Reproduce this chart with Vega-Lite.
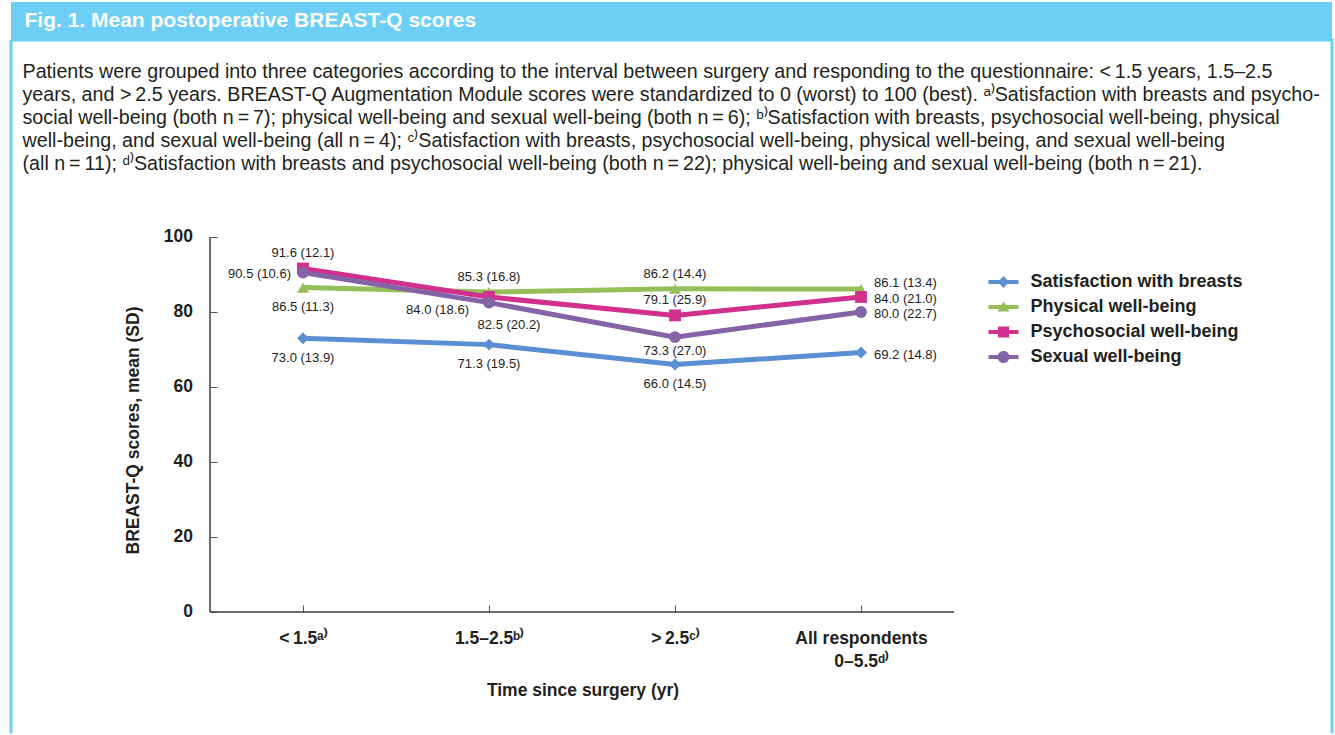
{
  "$schema": "https://vega.github.io/schema/vega-lite/v6.json",
  "background": "white",
  "padding": {"left": 9, "top": 2, "right": 0, "bottom": 0},
  "bounds": "flush",
  "spacing": 0,
  "config": {"view": {"stroke": null}, "font": "Liberation Sans"},
  "vconcat": [
    {
      "width": 1321,
      "height": 38,
      "view": {"fill": "#6dcff6", "stroke": null},
      "title": {"text": "Fig. 1. Mean postoperative BREAST-Q scores", "anchor": "start", "frame": "group", "dx": 13.5, "offset": -29, "baseline": "top", "font": "Liberation Sans", "fontSize": 21, "fontWeight": "bold", "color": "#ffffff"},
      "data": {"values": [{"t": ""}]},
      "mark": {"type": "text"},
      "encoding": {"text": {"field": "t"}}
    },
    {
      "width": 1321,
      "height": 693.5,
      "view": {"fill": "white", "stroke": "#6dcff6", "strokeWidth": 3, "strokeDash": [2014.5, 1321, 693.5, 0]},
      "title": {
        "text": [
          "Patients were grouped into three categories according to the interval between surgery and responding to the questionnaire: <\u20091.5 years, 1.5–2.5",
          "years, and >\u20092.5 years. BREAST-Q Augmentation Module scores were standardized to 0 (worst) to 100 (best). ᵃ⁾Satisfaction with breasts and psycho-",
          "social well-being (both n\u2009=\u20097); physical well-being and sexual well-being (both n\u2009=\u20096); ᵇ⁾Satisfaction with breasts, psychosocial well-being, physical",
          "well-being, and sexual well-being (all n\u2009=\u20094); ᶜ⁾Satisfaction with breasts, psychosocial well-being, physical well-being, and sexual well-being",
          "(all n\u2009=\u200911); ᵈ⁾Satisfaction with breasts and psychosocial well-being (both n\u2009=\u200922); physical well-being and sexual well-being (both n\u2009=\u200921)."
        ],
        "anchor": "start", "frame": "group", "dx": 11.5, "offset": -133.4, "baseline": "top",
        "font": "Liberation Sans", "fontSize": 19.7, "fontWeight": "normal", "color": "#231f20", "lineHeight": 23
      },
      "data": {
        "values": [
          {"series": "Satisfaction with breasts", "group": 1, "mean": 73.0, "sd": 13.9, "label": "73.0 (13.9)"},
          {"series": "Satisfaction with breasts", "group": 2, "mean": 71.3, "sd": 19.5, "label": "71.3 (19.5)"},
          {"series": "Satisfaction with breasts", "group": 3, "mean": 66.0, "sd": 14.5, "label": "66.0 (14.5)"},
          {"series": "Satisfaction with breasts", "group": 4, "mean": 69.2, "sd": 14.8, "label": "69.2 (14.8)"},
          {"series": "Physical well-being", "group": 1, "mean": 86.5, "sd": 11.3, "label": "86.5 (11.3)"},
          {"series": "Physical well-being", "group": 2, "mean": 85.3, "sd": 16.8, "label": "85.3 (16.8)"},
          {"series": "Physical well-being", "group": 3, "mean": 86.2, "sd": 14.4, "label": "86.2 (14.4)"},
          {"series": "Physical well-being", "group": 4, "mean": 86.1, "sd": 13.4, "label": "86.1 (13.4)"},
          {"series": "Psychosocial well-being", "group": 1, "mean": 91.6, "sd": 12.1, "label": "91.6 (12.1)"},
          {"series": "Psychosocial well-being", "group": 2, "mean": 84.0, "sd": 18.6, "label": "84.0 (18.6)"},
          {"series": "Psychosocial well-being", "group": 3, "mean": 79.1, "sd": 25.9, "label": "79.1 (25.9)"},
          {"series": "Psychosocial well-being", "group": 4, "mean": 84.0, "sd": 21.0, "label": "84.0 (21.0)"},
          {"series": "Sexual well-being", "group": 1, "mean": 90.5, "sd": 10.6, "label": "90.5 (10.6)"},
          {"series": "Sexual well-being", "group": 2, "mean": 82.5, "sd": 20.2, "label": "82.5 (20.2)"},
          {"series": "Sexual well-being", "group": 3, "mean": 73.3, "sd": 27.0, "label": "73.3 (27.0)"},
          {"series": "Sexual well-being", "group": 4, "mean": 80.0, "sd": 22.7, "label": "80.0 (22.7)"}
        ]
      },
      "resolve": {"scale": {"color": "independent", "shape": "independent"}},
      "layer": [
        {
          "mark": {"type": "line", "strokeWidth": 5},
          "encoding": {
            "x": {
              "field": "group", "type": "quantitative",
              "scale": {"domain": [-0.56989, 6.53226], "nice": false, "zero": false},
              "axis": {
                "orient": "bottom", "offset": -121.5, "values": [1, 2, 3, 4], "domain": false, "grid": false,
                "tickSize": -7, "tickColor": "#555555", "tickWidth": 1,
                "labelExpr": "datum.value == 1 ? '<\u20091.5ᵃ⁾' : datum.value == 2 ? '1.5–2.5ᵇ⁾' : datum.value == 3 ? '>\u20092.5ᶜ⁾' : ['All respondents', '0–5.5ᵈ⁾']",
                "labelFont": "Liberation Sans", "labelFontSize": 17.5, "labelFontWeight": "bold", "labelColor": "#231f20",
                "labelPadding": 24, "labelLineHeight": 23, "labelFlush": false, "labelOverlap": false,
                "title": "Time since surgery (yr)", "titleX": 571.5, "titleY": 83, "titleAlign": "center", "titleBaseline": "alphabetic",
                "titleFont": "Liberation Sans", "titleFontSize": 17.5, "titleFontWeight": "bold", "titleColor": "#231f20"
              }
            },
            "y": {
              "field": "mean", "type": "quantitative",
              "scale": {"domain": [-32.4, 152.533], "nice": false, "zero": false},
              "axis": {
                "orient": "left", "offset": -199, "values": [0, 20, 40, 60, 80, 100], "domain": false, "grid": false,
                "tickSize": -7, "tickColor": "#555555", "tickWidth": 1,
                "labelFont": "Liberation Sans", "labelFontSize": 17.5, "labelFontWeight": "bold", "labelColor": "#231f20", "labelPadding": 24.5,
                "title": "BREAST-Q scores, mean (SD)", "titleX": -76.5, "titleY": 390, "titleAngle": 270, "titleAlign": "center", "titleBaseline": "middle",
                "titleFont": "Liberation Sans", "titleFontSize": 17.5, "titleFontWeight": "bold", "titleColor": "#231f20"
              }
            },
            "color": {
              "field": "series", "type": "nominal",
              "scale": {"domain": ["Satisfaction with breasts", "Physical well-being", "Psychosocial well-being", "Sexual well-being"], "range": ["#5b8fd4", "#97bf58", "#d2308e", "#8463a6"]},
              "legend": null
            }
          }
        },
        {
          "data": {"values": [{"k": 1}]},
          "mark": {"type": "rule", "color": "#3c3c3c", "strokeWidth": 1.5},
          "encoding": {
            "x": {"datum": 0.5, "type": "quantitative"},
            "x2": {"datum": 4.5},
            "y": {"datum": 0, "type": "quantitative"}
          }
        },
        {
          "data": {"values": [{"k": 1}]},
          "mark": {"type": "rule", "color": "#3c3c3c", "strokeWidth": 1.5},
          "encoding": {
            "x": {"datum": 0.5, "type": "quantitative"},
            "y": {"datum": 0, "type": "quantitative"},
            "y2": {"datum": 100}
          }
        },
        {
          "mark": {"type": "point", "filled": true, "opacity": 1, "size": 140},
          "encoding": {
            "x": {"field": "group", "type": "quantitative"},
            "y": {"field": "mean", "type": "quantitative"},
            "color": {
              "field": "series", "type": "nominal",
              "scale": {"domain": ["Satisfaction with breasts", "Physical well-being", "Psychosocial well-being", "Sexual well-being"], "range": ["#5b8fd4", "#97bf58", "#d2308e", "#8463a6"]},
              "legend": null
            },
            "shape": {
              "field": "series", "type": "nominal",
              "scale": {"domain": ["Satisfaction with breasts", "Physical well-being", "Psychosocial well-being", "Sexual well-being"], "range": ["diamond", "triangle-up", "square", "circle"]},
              "legend": null
            }
          }
        },
        {
          "transform": [{"filter": "false"}],
          "mark": {"type": "point", "filled": true, "opacity": 1},
          "encoding": {
            "x": {"field": "group", "type": "quantitative"},
            "y": {"field": "mean", "type": "quantitative"},
            "color": {
              "field": "series", "type": "nominal",
              "scale": {"domain": ["Satisfaction with breasts", "Physical well-being", "Psychosocial well-being", "Sexual well-being"], "range": ["#5b8fd4", "#97bf58", "#d2308e", "#8463a6"]},
              "legend": {"orient": "none", "legendX": 982.5, "legendY": 232, "title": null, "padding": 0, "labelFont": "Liberation Sans", "labelFontSize": 18, "labelFontWeight": "bold", "labelColor": "#231f20", "labelOffset": 17, "labelLimit": 400, "rowPadding": 6, "symbolSize": 400, "symbolStrokeWidth": 0, "symbolOpacity": 1}
            },
            "shape": {
              "field": "series", "type": "nominal",
              "scale": {"domain": ["Satisfaction with breasts", "Physical well-being", "Psychosocial well-being", "Sexual well-being"], "range": [
                "M-1.5,-0.2H1.5V0.2H-1.5Z M0,-0.6L0.55,0L0,0.6L-0.55,0Z",
                "M-1.5,-0.2H1.5V0.2H-1.5Z M0,-0.55L0.6,0.45L-0.6,0.45Z",
                "M-1.5,-0.2H1.5V0.2H-1.5Z M-0.55,-0.55H0.55V0.55H-0.55Z",
                "M-1.5,-0.2H1.5V0.2H-1.5Z M-0.6,0A0.6,0.6 0 1,1 0.6,0A0.6,0.6 0 1,1 -0.6,0Z"
              ]},
              "legend": {"orient": "none", "legendX": 982.5, "legendY": 232, "title": null, "padding": 0, "labelFont": "Liberation Sans", "labelFontSize": 18, "labelFontWeight": "bold", "labelColor": "#231f20", "labelOffset": 17, "labelLimit": 400, "rowPadding": 6, "symbolSize": 400, "symbolStrokeWidth": 0, "symbolOpacity": 1}
            }
          }
        },
        {
          "transform": [{"filter": "(datum.series==='Psychosocial well-being'&&(datum.group===1||datum.group===3))||(datum.series==='Physical well-being'&&(datum.group===2||datum.group===3))"}],
          "mark": {"type": "text", "font": "Liberation Sans", "fontSize": 13, "color": "#1e1e1e", "align": "center", "baseline": "middle", "dy": -15},
          "encoding": {
            "x": {"field": "group", "type": "quantitative"},
            "y": {"field": "mean", "type": "quantitative"},
            "text": {"field": "label"}
          }
        },
        {
          "transform": [{"filter": "(datum.series==='Physical well-being'&&datum.group===1)||(datum.series==='Satisfaction with breasts'&&datum.group<=3)"}],
          "mark": {"type": "text", "font": "Liberation Sans", "fontSize": 13, "color": "#1e1e1e", "align": "center", "baseline": "middle", "dy": 19.5},
          "encoding": {
            "x": {"field": "group", "type": "quantitative"},
            "y": {"field": "mean", "type": "quantitative"},
            "text": {"field": "label"}
          }
        },
        {
          "transform": [{"filter": "datum.series==='Sexual well-being'&&datum.group===3"}],
          "mark": {"type": "text", "font": "Liberation Sans", "fontSize": 13, "color": "#1e1e1e", "align": "center", "baseline": "middle", "dy": 14},
          "encoding": {
            "x": {"field": "group", "type": "quantitative"},
            "y": {"field": "mean", "type": "quantitative"},
            "text": {"field": "label"}
          }
        },
        {
          "transform": [{"filter": "datum.series==='Sexual well-being'&&datum.group===2"}],
          "mark": {"type": "text", "font": "Liberation Sans", "fontSize": 13, "color": "#1e1e1e", "align": "center", "baseline": "middle", "dx": 20, "dy": 22},
          "encoding": {
            "x": {"field": "group", "type": "quantitative"},
            "y": {"field": "mean", "type": "quantitative"},
            "text": {"field": "label"}
          }
        },
        {
          "transform": [{"filter": "datum.series==='Sexual well-being'&&datum.group===1"}],
          "mark": {"type": "text", "font": "Liberation Sans", "fontSize": 13, "color": "#1e1e1e", "align": "right", "baseline": "middle", "dx": -12, "dy": 1},
          "encoding": {
            "x": {"field": "group", "type": "quantitative"},
            "y": {"field": "mean", "type": "quantitative"},
            "text": {"field": "label"}
          }
        },
        {
          "transform": [{"filter": "datum.series==='Psychosocial well-being'&&datum.group===2"}],
          "mark": {"type": "text", "font": "Liberation Sans", "fontSize": 13, "color": "#1e1e1e", "align": "right", "baseline": "middle", "dx": -20, "dy": 13},
          "encoding": {
            "x": {"field": "group", "type": "quantitative"},
            "y": {"field": "mean", "type": "quantitative"},
            "text": {"field": "label"}
          }
        },
        {
          "transform": [{"filter": "datum.group===4&&datum.series!=='Physical well-being'"}],
          "mark": {"type": "text", "font": "Liberation Sans", "fontSize": 13, "color": "#1e1e1e", "align": "left", "baseline": "middle", "dx": 13, "dy": 2.5},
          "encoding": {
            "x": {"field": "group", "type": "quantitative"},
            "y": {"field": "mean", "type": "quantitative"},
            "text": {"field": "label"}
          }
        },
        {
          "transform": [{"filter": "datum.group===4&&datum.series==='Physical well-being'"}],
          "mark": {"type": "text", "font": "Liberation Sans", "fontSize": 13, "color": "#1e1e1e", "align": "left", "baseline": "middle", "dx": 13, "dy": -6.5},
          "encoding": {
            "x": {"field": "group", "type": "quantitative"},
            "y": {"field": "mean", "type": "quantitative"},
            "text": {"field": "label"}
          }
        }
      ]
    }
  ]
}
